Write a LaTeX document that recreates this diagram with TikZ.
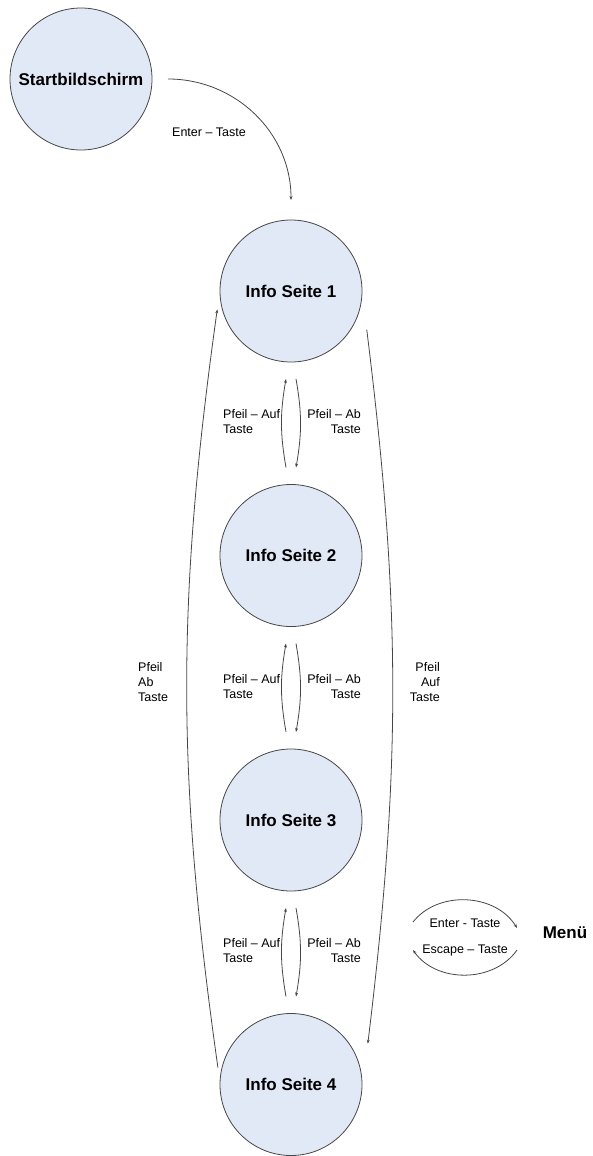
\documentclass[tikz,border=0pt]{standalone}
\usepackage{fontspec}
\setmainfont{Liberation Sans}
\usetikzlibrary{positioning,arrows.meta}
\definecolor{kreis}{RGB}{226,233,246}
\definecolor{linie}{RGB}{70,70,70}
\begin{document}
\begin{tikzpicture}[x=1pt,y=1pt,
  seite/.style={circle,draw=linie,fill=kreis,line width=0.8pt,minimum size=142pt,inner sep=0pt,outer sep=0pt,font=\fontsize{17}{20}\selectfont\bfseries},
  lbl/.style={font=\fontsize{12.5}{15}\selectfont,inner sep=0pt},
  pfeil/.style={draw=linie,line width=0.8pt,-{Stealth[length=4pt,width=3pt]}},
  node distance=122.5pt]
\useasboundingbox (0,0) rectangle (593,-1156);
% Seiten
\node[seite] (start) at (81,-79) {Startbildschirm};
\node[seite] (s1) at (291,-291) {Info Seite 1};
\node[seite,below=of s1] (s2) {Info Seite 2};
\node[seite,below=of s2] (s3) {Info Seite 3};
\node[seite,below=of s3] (s4) {Info Seite 4};
% Start -> Seite 1
\draw[pfeil] ([xshift=16pt]start.east) to[out=0,in=90] ([yshift=20pt]s1.north);
\node[lbl,anchor=west] (enter) at (172,-132) {Enter -- Taste};
% Auf / Ab zwischen den Seiten
\foreach \a/\b in {s1/s2,s2/s3,s3/s4} {
  \draw[pfeil] ([xshift=-5pt,yshift=17pt]\b.north) to[bend left=10] ([xshift=-5pt,yshift=-17pt]\a.south);
  \draw[pfeil] ([xshift=5pt,yshift=-17pt]\a.south) to[bend left=10] ([xshift=5pt,yshift=17pt]\b.north);
  \node[lbl,align=left,anchor=west] (auf\a) at ([xshift=-68pt,yshift=-60pt]\a.south) {Pfeil -- Auf\\Taste};
  \node[lbl,align=right,anchor=east] (ab\a) at ([xshift=70pt,yshift=-60pt]\a.south) {Pfeil -- Ab\\Taste};
}
% Rundlauf 4 -> 1 und 1 -> 4
\draw[pfeil] ([shift={(167:75pt)}]s4.center) to[bend left=8] ([shift={(194:76pt)}]s1.center);
\draw[pfeil] ([shift={(-27:85pt)}]s1.center) to[bend left=7] ([shift={(28:87pt)}]s4.center);
\node[lbl,align=left,anchor=west] (abl) at (138,-682) {Pfeil\\Ab\\Taste};
\node[lbl,align=right,anchor=east] (aufr) at (440,-682) {Pfeil\\Auf\\Taste};
% Menue
\node[font=\fontsize{17}{20}\selectfont\bfseries] (menu) at (565,-933) {Menü};
\node[lbl] (menter) at (465,-923) {Enter - Taste};
\node[lbl] (mesc) at (465,-950) {Escape -- Taste};
\draw[pfeil] ([shift={(-52pt,1pt)}]menter.center) to[bend left=55] ([shift={(52pt,-5pt)}]menter.center);
\draw[pfeil] ([shift={(52pt,0pt)}]mesc.center) to[bend left=55] ([shift={(-52pt,0pt)}]mesc.center);
\end{tikzpicture}
\end{document}
